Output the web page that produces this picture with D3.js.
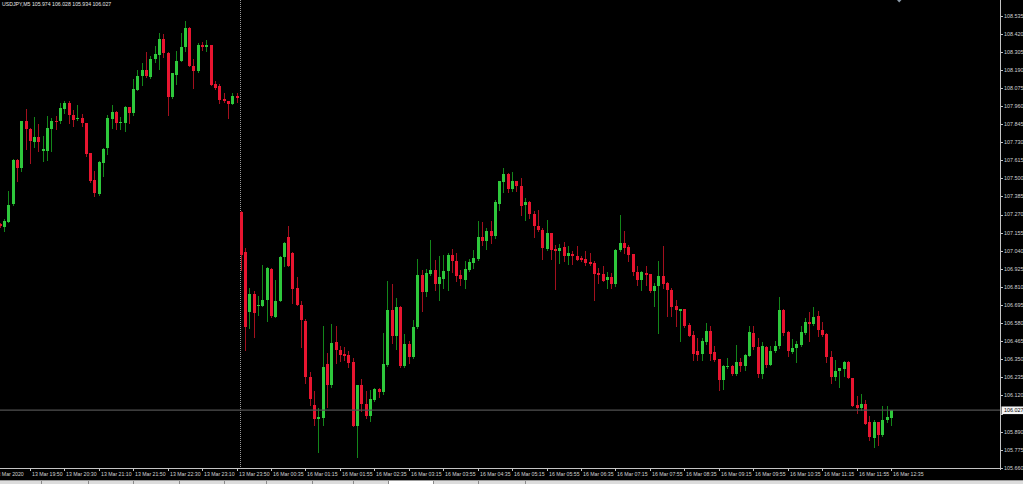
<!DOCTYPE html>
<html>
<head>
<meta charset="utf-8">
<script src="https://cdn.jsdelivr.net/npm/d3@7"></script>
<style>
  html, body { margin: 0; padding: 0; background: #000; overflow: hidden; }
  text { font-family: "Liberation Sans", Arial, sans-serif; }
</style>
</head>
<body>
<div id="chart"></div>
<script>
// USDJPY M5, 13 Mar 19:15 -> 16 Mar 12:35 (weekend gap between)
var symbolName = "USDJPY,M5";

var open = [
  107.213,107.192,107.222,107.338,107.620,107.567,107.862,107.815,107.734,107.762,
  107.673,107.677,107.817,107.868,107.862,107.942,107.982,107.900,107.876,107.885,
  107.853,107.662,107.487,107.400,107.599,107.692,107.879,107.925,107.851,107.853,
  107.953,107.915,108.065,108.150,108.188,108.146,108.256,108.283,108.389,108.300,
  108.018,108.160,108.247,108.336,108.457,108.213,108.182,108.351,108.334,108.345,
  108.097,108.086,108.006,107.991,107.970,108.027,
  107.284,107.032,106.651,106.767,106.687,106.691,106.725,106.926,106.619,106.723,
  106.998,107.126,107.026,106.803,106.697,106.592,106.236,106.062,105.971,105.977,
  106.322,106.189,106.462,106.411,106.386,106.380,106.331,105.928,106.185,106.068,
  105.988,106.089,106.161,106.140,106.316,106.666,106.500,106.683,106.310,106.447,
  106.363,106.553,106.888,106.776,106.895,106.920,106.829,106.863,106.914,107.015,
  106.973,106.888,106.856,106.920,106.962,106.990,
  107.126,107.105,107.168,107.132,107.340,107.475,107.530,107.435,107.482,107.454,
  107.329,107.348,107.276,107.200,107.174,107.054,107.153,107.052,107.037,107.062,
  107.009,107.022,107.009,106.992,106.988,106.967,106.963,106.899,106.889,106.852,
  106.872,106.831,107.043,107.090,107.062,107.022,106.903,106.857,106.899,106.889,
  106.782,106.814,106.878,106.835,106.793,106.687,106.660,106.670,106.566,106.507,
  106.401,106.384,106.458,106.528,
  106.394,106.352,106.217,106.299,106.310,106.259,106.331,106.306,106.373,106.517,
  106.428,106.259,106.428,106.316,106.401,106.433,106.666,106.522,106.397,106.422,
  106.443,106.517,106.589,106.572,106.623,106.539,106.511,106.363,106.238,106.278,
  106.289,106.331,106.231,106.062,106.041,106.068,105.950,105.850,105.950,105.871,
  105.967,105.974
];

var high = [
  107.217,107.239,107.417,107.626,107.622,107.864,107.942,107.819,107.891,107.847,
  107.768,107.895,107.881,107.895,107.980,107.995,107.991,107.938,107.968,107.912,
  107.855,107.664,107.544,107.609,107.692,107.906,107.968,107.927,107.889,107.963,
  107.955,108.129,108.192,108.235,108.302,108.281,108.340,108.425,108.415,108.302,
  108.167,108.307,108.425,108.499,108.463,108.256,108.362,108.368,108.377,108.347,
  108.118,108.097,108.040,107.991,108.040,108.044,
  107.290,107.058,106.803,106.782,106.750,106.952,106.935,106.931,106.856,107.005,
  107.094,107.200,107.030,106.873,106.719,106.606,106.267,106.151,106.041,106.560,
  106.390,106.577,106.564,106.433,106.426,106.401,106.358,106.189,106.225,106.147,
  106.157,106.168,106.168,106.517,106.850,106.831,106.740,106.691,106.513,106.464,
  106.602,106.988,106.920,106.926,107.106,106.984,107.005,107.015,107.026,107.051,
  107.026,106.920,106.973,106.988,107.047,107.227,
  107.221,107.185,107.227,107.361,107.484,107.567,107.535,107.539,107.484,107.503,
  107.376,107.355,107.291,107.302,107.185,107.234,107.155,107.079,107.086,107.094,
  107.069,107.037,107.073,107.005,107.037,107.026,106.973,106.931,106.941,106.903,
  106.899,107.049,107.270,107.164,107.079,107.022,106.941,106.910,106.941,106.889,
  106.835,106.973,107.069,106.840,106.804,106.730,106.672,106.672,106.581,106.528,
  106.486,106.486,106.581,106.564,
  106.433,106.352,106.316,106.358,106.316,106.443,106.358,106.386,106.564,106.564,
  106.486,106.458,106.437,106.437,106.464,106.744,106.670,106.528,106.479,106.464,
  106.560,106.611,106.653,106.683,106.655,106.585,106.517,106.401,106.348,106.297,
  106.337,106.337,106.233,106.119,106.132,106.094,105.992,105.967,105.952,106.055,
  106.051,106.028
];

var low = [
  107.192,107.164,107.220,107.334,107.482,107.546,107.684,107.599,107.698,107.673,
  107.609,107.620,107.673,107.811,107.853,107.917,107.853,107.836,107.870,107.832,
  107.641,107.478,107.391,107.395,107.518,107.652,107.821,107.811,107.815,107.800,
  107.849,107.900,108.061,108.095,108.146,108.139,108.239,108.198,108.271,107.900,
  108.012,108.103,108.247,108.309,108.213,108.076,108.177,108.315,108.313,108.093,
  108.069,107.980,107.985,107.881,107.970,107.985,
  106.920,106.411,106.549,106.490,106.634,106.687,106.592,106.619,106.617,106.719,
  106.941,106.941,106.708,106.695,106.428,106.200,106.062,105.935,105.759,105.935,
  106.047,106.174,106.327,106.342,106.348,106.301,105.924,105.729,106.024,105.977,
  105.956,106.083,106.111,106.132,106.305,106.454,106.416,106.299,106.301,106.327,
  106.358,106.549,106.655,106.750,106.888,106.793,106.725,106.803,106.793,106.903,
  106.846,106.825,106.803,106.910,106.931,106.984,
  107.079,107.052,107.090,107.122,107.297,107.412,107.412,107.418,107.418,107.270,
  107.234,107.249,107.128,107.164,106.990,107.047,106.988,106.797,106.963,106.977,
  106.958,106.958,106.980,106.973,106.952,106.952,106.730,106.835,106.846,106.804,
  106.804,106.814,107.037,107.026,106.973,106.888,106.825,106.789,106.825,106.776,
  106.687,106.518,106.804,106.628,106.624,106.560,106.469,106.556,106.496,106.348,
  106.348,106.348,106.450,106.348,
  106.337,106.157,106.161,106.295,106.253,106.253,106.274,106.284,106.369,106.416,
  106.238,106.231,106.301,106.312,106.395,106.422,106.507,106.373,106.390,106.331,
  106.433,106.513,106.464,106.568,106.496,106.496,106.333,106.200,106.221,106.174,
  106.242,106.231,106.051,106.009,106.030,105.941,105.835,105.793,105.808,105.865,
  105.950,105.934
];

var close = [
  107.196,107.228,107.334,107.620,107.567,107.862,107.811,107.737,107.762,107.730,
  107.684,107.819,107.868,107.864,107.946,107.982,107.900,107.874,107.883,107.849,
  107.658,107.482,107.404,107.607,107.690,107.881,107.925,107.851,107.857,107.953,
  107.915,108.071,108.150,108.188,108.148,108.260,108.288,108.389,108.298,108.018,
  108.167,108.249,108.338,108.457,108.213,108.182,108.351,108.334,108.347,108.093,
  108.076,108.001,107.991,107.974,108.027,108.008,
  107.015,106.553,106.767,106.645,106.695,106.729,106.933,106.623,106.723,107.000,
  107.090,106.941,106.797,106.697,106.598,106.236,106.098,105.973,105.981,106.299,
  106.189,106.454,106.407,106.380,106.373,106.327,105.928,106.185,106.068,105.988,
  106.098,106.161,106.140,106.320,106.661,106.500,106.683,106.310,106.447,106.363,
  106.556,106.884,106.776,106.899,106.920,106.831,106.871,106.914,107.015,106.973,
  106.882,106.863,106.926,106.967,106.994,107.126,
  107.105,107.168,107.136,107.348,107.482,107.530,107.435,107.486,107.450,107.327,
  107.348,107.276,107.196,107.170,107.058,107.153,107.047,107.041,107.058,107.005,
  107.026,107.005,106.984,106.984,106.963,106.958,106.895,106.884,106.850,106.872,
  106.831,107.047,107.090,107.058,107.016,106.903,106.857,106.903,106.884,106.782,
  106.818,106.878,106.831,106.789,106.681,106.662,106.670,106.560,106.501,106.386,
  106.380,106.469,106.528,106.386,
  106.348,106.217,106.306,106.310,106.259,106.331,106.306,106.375,106.522,106.426,
  106.259,106.433,106.316,106.401,106.437,106.666,106.517,106.401,106.422,106.450,
  106.524,106.589,106.572,106.619,106.534,106.507,106.363,106.238,106.278,106.295,
  106.331,106.231,106.055,106.041,106.068,105.941,105.854,105.950,105.871,105.967,
  105.983,106.027
];

var yTickLabels = ["108.535","108.420","108.305","108.190","108.075","107.960","107.845",
  "107.730","107.615","107.500","107.385","107.270","107.155","107.040","106.925","106.810",
  "106.695","106.580","106.465","106.350","106.235","106.120","106.005","105.890","105.775","105.660"];

var xTickLabels = ["13 Mar 19:50","13 Mar 20:30","13 Mar 21:10","13 Mar 21:50","13 Mar 22:30",
  "13 Mar 23:10","13 Mar 23:50","16 Mar 00:35","16 Mar 01:15","16 Mar 01:55","16 Mar 02:35",
  "16 Mar 03:15","16 Mar 03:55","16 Mar 04:35","16 Mar 05:15","16 Mar 05:55","16 Mar 06:35",
  "16 Mar 07:15","16 Mar 07:55","16 Mar 08:35","16 Mar 09:15","16 Mar 09:55","16 Mar 10:35",
  "16 Mar 11:15","16 Mar 11:55","16 Mar 12:35"];

var firstDateLabel = "13 Mar 2020";
var newDayLabel = "16 Mar 00:00";

// bar times: friday session end, then monday from 00:00
function pad(n) { return (n < 10 ? "0" : "") + n; }
var times = [];
for (var m = 19 * 60 + 15; m <= 23 * 60 + 50; m += 5) times.push("13 Mar " + pad(Math.floor(m / 60)) + ":" + pad(m % 60));
for (var m = 0; m <= 12 * 60 + 35; m += 5) times.push("16 Mar " + pad(Math.floor(m / 60)) + ":" + pad(m % 60));

var width = 1023;
var height = 484;
var plotRight = 1000;   // right price axis
var plotBottom = 469;   // time axis

var bullColor = "#2ec83c", bearColor = "#e81530";
var bullWick = "#13861a", bearWick = "#a3101e";
var axisColor = "#c4c4c4", labelColor = "#d2d2d2";

var svg = d3.select("#chart").append("svg")
  .attr("width", width)
  .attr("height", height)
  .style("display", "block");

svg.append("rect").attr("width", width).attr("height", height).attr("fill", "#000");

var x = d3.scalePoint().domain(times).range([0.2, 891.5]);
var y = d3.scaleLinear().domain([105.660, 108.535]).range([467.8, 15.6]);

function px(t) { return Math.floor(x(t)); }

// day separator (dotted)
svg.append("line")
  .attr("x1", px(newDayLabel) - 0.5).attr("x2", px(newDayLabel) - 0.5)
  .attr("y1", 0).attr("y2", plotBottom)
  .attr("stroke", "#9a9a9a")
  .attr("stroke-dasharray", "1,1")
  .attr("shape-rendering", "crispEdges");

// candles
var idx = d3.range(times.length);
var candles = svg.append("g").attr("shape-rendering", "crispEdges");

candles.selectAll("line.wick").data(idx).enter().append("line")
  .attr("class", "wick")
  .attr("x1", function(i) { return px(times[i]) + 0.5; })
  .attr("x2", function(i) { return px(times[i]) + 0.5; })
  .attr("y1", function(i) { return Math.round(y(high[i])); })
  .attr("y2", function(i) { return Math.round(y(low[i])) + 1; })
  .attr("stroke", function(i) { return close[i] >= open[i] ? bullWick : bearWick; })
  .attr("stroke-width", 1);

candles.selectAll("rect.body").data(idx).enter().append("rect")
  .attr("class", "body")
  .attr("x", function(i) { return px(times[i]) - 1; })
  .attr("width", 3)
  .attr("y", function(i) { return Math.round(y(Math.max(open[i], close[i]))); })
  .attr("height", function(i) {
    var h = Math.round(y(Math.min(open[i], close[i]))) - Math.round(y(Math.max(open[i], close[i])));
    return Math.max(1, h);
  })
  .attr("fill", function(i) { return close[i] >= open[i] ? bullColor : bearColor; });

// current price line
var last = times.length - 1;
svg.append("line")
  .attr("x1", 0).attr("x2", plotRight)
  .attr("y1", y(close[last])).attr("y2", y(close[last]))
  .attr("stroke", "#505050")
  .attr("stroke-width", 1.4);

// axes lines
svg.append("line")
  .attr("x1", plotRight + 0.5).attr("x2", plotRight + 0.5)
  .attr("y1", 0).attr("y2", plotBottom + 0.5)
  .attr("stroke", axisColor).attr("shape-rendering", "crispEdges");
svg.append("line")
  .attr("x1", 0).attr("x2", plotRight + 0.5)
  .attr("y1", plotBottom - 0.5).attr("y2", plotBottom - 0.5)
  .attr("stroke", axisColor).attr("shape-rendering", "crispEdges");

// price axis (labels hidden behind the price tag are skipped)
var tagY = y(close[last]);
var yVisible = yTickLabels.filter(function(d) { return Math.abs(y(+d) - tagY) > 6; });
var yAxis = svg.append("g");
yAxis.selectAll("line").data(yTickLabels).enter().append("line")
  .attr("x1", plotRight + 1).attr("x2", plotRight + 3)
  .attr("y1", function(d) { return Math.round(y(+d)) + 0.5; })
  .attr("y2", function(d) { return Math.round(y(+d)) + 0.5; })
  .attr("stroke", axisColor);
yAxis.selectAll("text").data(yVisible).enter().append("text")
  .attr("x", plotRight + 4)
  .attr("y", function(d) { return y(+d) + 1.9; })
  .attr("font-size", 5.4)
  .attr("fill", labelColor)
  .text(function(d) { return d; });

// current price tag
svg.append("rect")
  .attr("x", plotRight + 1.5).attr("y", tagY - 3.6)
  .attr("width", width - plotRight).attr("height", 7.6)
  .attr("fill", "#f4f4f4");
svg.append("text")
  .attr("x", plotRight + 4).attr("y", tagY + 1.9)
  .attr("font-size", 5.4)
  .attr("fill", "#000")
  .text(close[last].toFixed(3));

// time axis
var xAxis = svg.append("g");
xAxis.selectAll("line").data(xTickLabels).enter().append("line")
  .attr("x1", function(d) { return px(d) + 0.5; })
  .attr("x2", function(d) { return px(d) + 0.5; })
  .attr("y1", plotBottom - 1).attr("y2", plotBottom + 2)
  .attr("stroke", axisColor);
xAxis.selectAll("text").data(xTickLabels).enter().append("text")
  .attr("x", function(d) { return px(d) + 2; })
  .attr("y", plotBottom + 7.2)
  .attr("font-size", 5.2)
  .attr("fill", labelColor)
  .text(function(d) { return d; });
xAxis.append("text")
  .attr("x", x(times[0]) - 5.6)
  .attr("y", plotBottom + 7.2)
  .attr("font-size", 5.2)
  .attr("fill", labelColor)
  .text(firstDateLabel);

// header: symbol and last bar OHLC
svg.append("text")
  .attr("x", 2).attr("y", 5.6)
  .attr("font-size", 5.2)
  .attr("fill", "#e6e6e6")
  .text(symbolName + "  " + [open[last], high[last], low[last], close[last]].map(function(v) { return v.toFixed(3); }).join(" "));

// chart shift marker
svg.append("path")
  .attr("d", "M897,0 L901.5,0 L899.2,2.6 Z")
  .attr("fill", "#8c9aa8");

// bottom tab strip
svg.append("rect").attr("x", 0).attr("y", 480).attr("width", width).attr("height", 4).attr("fill", "#dcdcdc");
svg.append("line").attr("x1", 0).attr("x2", width).attr("y1", 480.5).attr("y2", 480.5).attr("stroke", "#9c9c9c");
svg.append("rect").attr("x", 388).attr("y", 481).attr("width", 45).attr("height", 3).attr("fill", "#ffffff");
var tabEdges = [41, 88, 133, 179, 224, 266, 312, 353, 388, 433, 478, 525];
svg.selectAll("line.tab").data(tabEdges).enter().append("line")
  .attr("class", "tab")
  .attr("x1", function(d) { return d + 0.5; }).attr("x2", function(d) { return d + 0.5; })
  .attr("y1", 481).attr("y2", 484)
  .attr("stroke", "#8a8a8a");
</script>
</body>
</html>
